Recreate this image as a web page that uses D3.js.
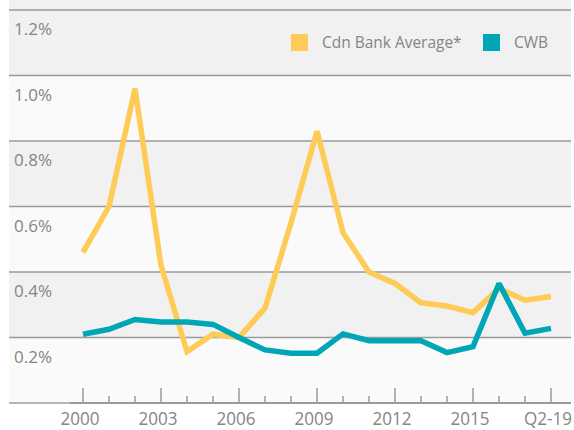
<!DOCTYPE html>
<html>
<head>
<meta charset="utf-8">
<script src="https://cdn.jsdelivr.net/npm/d3@7"></script>
<style>
  html, body { margin: 0; padding: 0; background: #ffffff; }
  svg { display: block; }
  text { font-family: "Open Sans", "Noto Sans", sans-serif; fill: #858585; }
</style>
</head>
<body>
<svg id="chart" width="574" height="430"></svg>
<script>
// ---- data ----
const categories = ["2000","2001","2002","2003","2004","2005","2006","2007","2008","2009",
                    "2010","2011","2012","2013","2014","2015","2016","2017","Q2-19"];
const tickLabels = ["2000","2003","2006","2009","2012","2015","Q2-19"];
const cdnBankAverage = [0.46,0.60,0.96,0.42,0.157,0.21,0.20,0.29,0.55,0.83,
                        0.52,0.40,0.365,0.306,0.296,0.276,0.35,0.314,0.325];
const cwb = [0.21,0.225,0.255,0.247,0.247,0.24,0.20,0.162,0.152,0.152,
             0.211,0.19,0.19,0.19,0.154,0.172,0.365,0.213,0.228];
const yTicks = [0.2,0.4,0.6,0.8,1.0,1.2];
const seriesNames = ["Cdn Bank Average*","CWB"];
const colors = ["#FECB57","#00A6B6"];

// ---- layout ----
const svg = d3.select("#chart");
const plotLeft = 9, plotRight = 571, plotTop = 10, plotBottom = 403;

const x = d3.scalePoint().domain(categories).range([83, 551]);
const y = d3.scaleLinear().domain([0, 1.2]).range([plotBottom, plotTop]);

// background
svg.append("rect").attr("x", plotLeft).attr("y", 0)
  .attr("width", plotRight - plotLeft).attr("height", plotBottom)
  .attr("fill", "#f1f1f1");
// lighter alternating bands
const bandStarts = [0.8, 0.4, 0.0];
svg.selectAll("rect.band").data(bandStarts).enter().append("rect")
  .attr("class","band")
  .attr("x", plotLeft).attr("width", plotRight - plotLeft)
  .attr("y", d => y(d + 0.2)).attr("height", d => y(d) - y(d + 0.2))
  .attr("fill", "#fafafa");

// gridlines
svg.selectAll("line.grid").data(yTicks).enter().append("line")
  .attr("class","grid")
  .attr("x1", plotLeft).attr("x2", plotRight)
  .attr("y1", d => y(d)).attr("y2", d => y(d))
  .attr("stroke", "#9a9a9a").attr("stroke-width", 1.5);

// y labels (below each gridline)
svg.selectAll("text.ylab").data(yTicks).enter().append("text")
  .attr("class","ylab")
  .attr("x", 14).attr("y", d => y(d) + 25)
  .attr("font-size", 17)
  .text(d => d.toFixed(1) + "%");

// x axis
const xAxis = d3.axisBottom(x).tickSize(0).tickFormat("");
const gx = svg.append("g").attr("transform", `translate(0,${plotBottom})`).call(xAxis);
gx.select(".domain").remove();
svg.append("line").attr("x1", plotLeft).attr("x2", 70)
  .attr("y1", plotBottom).attr("y2", plotBottom)
  .attr("stroke", "#b5b5b5").attr("stroke-width", 2);
svg.append("line").attr("x1", 70).attr("x2", plotRight)
  .attr("y1", plotBottom).attr("y2", plotBottom)
  .attr("stroke", "#9a9a9a").attr("stroke-width", 2);
svg.selectAll("line.tick").data(categories).enter().append("line")
  .attr("class","tick")
  .attr("x1", d => x(d)).attr("x2", d => x(d))
  .attr("y1", (d,i) => i % 3 === 0 ? plotBottom - 15 : plotBottom - 7)
  .attr("y2", plotBottom)
  .attr("stroke", "#9a9a9a").attr("stroke-width", 1.5);
svg.selectAll("text.xlab").data(categories.filter((d,i) => i % 3 === 0)).enter().append("text")
  .attr("class","xlab")
  .attr("transform", d => `translate(${x(d) - 3},425) scale(0.95,1)`)
  .attr("text-anchor", "middle")
  .attr("font-size", 18)
  .text((d,i) => tickLabels[i]);

// lines
const line = d3.line().x((d,i) => x(categories[i])).y(d => y(d));
[cdnBankAverage, cwb].forEach((s, k) => {
  svg.append("path").datum(s)
    .attr("d", line)
    .attr("fill", "none")
    .attr("stroke", colors[k])
    .attr("stroke-width", 5.5)
    .attr("stroke-linejoin", "miter")
    .attr("stroke-miterlimit", 2);
});

// legend
const legX = [291, 483];
seriesNames.forEach((n, k) => {
  svg.append("rect").attr("x", legX[k]).attr("y", 34).attr("width", 17).attr("height", 17)
    .attr("fill", colors[k]);
  svg.append("text")
    .attr("transform", `translate(${legX[k] + 31},48) scale(0.91,1)`)
    .attr("font-size", 17).text(n);
});
</script>
</body>
</html>
